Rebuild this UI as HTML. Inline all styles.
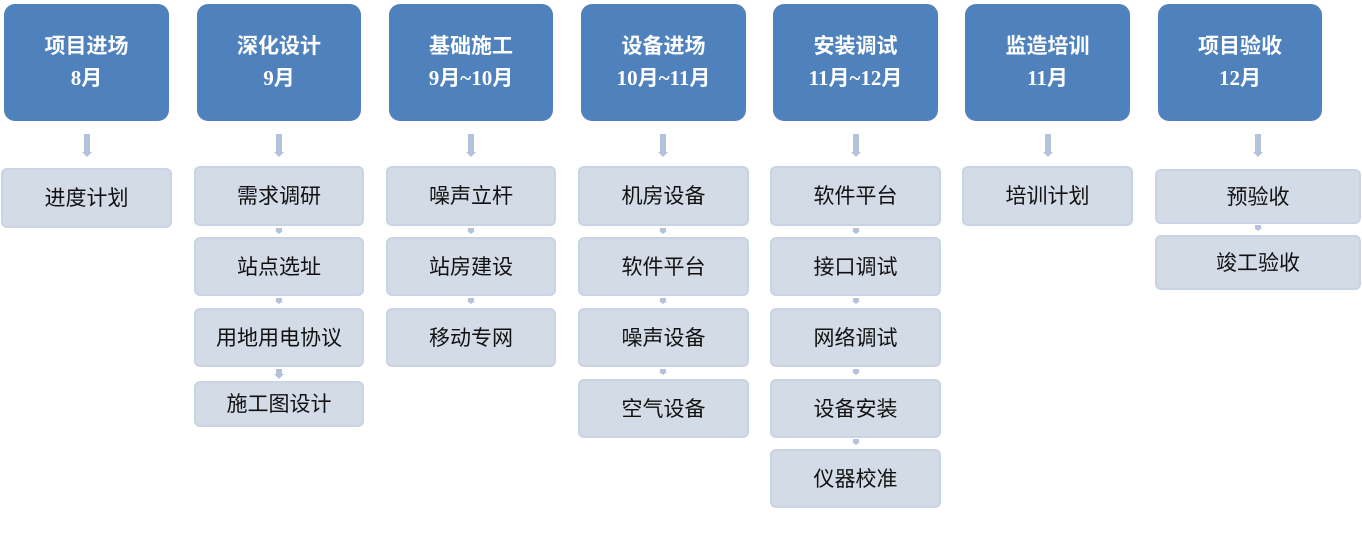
<!DOCTYPE html>
<html><head><meta charset="utf-8"><style>
body{margin:0;width:1362px;height:544px;background:#fff;position:relative;overflow:hidden}
.h{position:absolute;top:4px;height:117px;background:#4f81bd;border-radius:11px;color:#fff;font-family:"Liberation Serif","Noto Sans CJK SC",serif;font-weight:bold;font-size:21px;text-align:center;box-sizing:border-box;padding-top:26px;line-height:32px}
.b{position:absolute;background:#d3dbe7;border:2px solid #c9d3e4;border-radius:6px;box-sizing:border-box;font-family:"Liberation Sans","Noto Sans CJK SC",sans-serif;font-size:21px;color:#111;text-align:center;display:flex;align-items:center;justify-content:center;padding-bottom:2px}
.a{position:absolute;width:6px;background:#b4c3db}
.a:after{content:"";position:absolute;left:-2px;bottom:-5px;border-left:5px solid transparent;border-right:5px solid transparent;border-top:5px solid #b4c3db}
.s{position:absolute;width:6px;height:3px;background:#b4c3db}
.s:after{content:"";position:absolute;left:-1px;bottom:-3px;border-left:4px solid transparent;border-right:4px solid transparent;border-top:3px solid #b4c3db}
</style></head><body>
<div class="h" style="left:4px;width:165px">项目进场<br>8月</div>
<div class="h" style="left:197px;width:164px">深化设计<br>9月</div>
<div class="h" style="left:389px;width:164px">基础施工<br>9月~10月</div>
<div class="h" style="left:581px;width:165px">设备进场<br>10月~11月</div>
<div class="h" style="left:773px;width:165px">安装调试<br>11月~12月</div>
<div class="h" style="left:965px;width:165px">监造培训<br>11月</div>
<div class="h" style="left:1158px;width:164px">项目验收<br>12月</div>

<div class="a" style="left:84px;top:134px;height:18px"></div>
<div class="a" style="left:276px;top:134px;height:18px"></div>
<div class="a" style="left:468px;top:134px;height:18px"></div>
<div class="a" style="left:660px;top:134px;height:18px"></div>
<div class="a" style="left:853px;top:134px;height:18px"></div>
<div class="a" style="left:1045px;top:134px;height:18px"></div>
<div class="a" style="left:1255px;top:134px;height:18px"></div>

<div class="b" style="left:1px;top:168px;width:171px;height:60px">进度计划</div>

<div class="b" style="left:194px;top:166px;width:170px;height:60px">需求调研</div>
<div class="b" style="left:194px;top:237px;width:170px;height:59px">站点选址</div>
<div class="b" style="left:194px;top:308px;width:170px;height:59px">用地用电协议</div>
<div class="b" style="left:194px;top:381px;width:170px;height:46px">施工图设计</div>
<div class="s" style="left:276px;top:228px"></div>
<div class="s" style="left:276px;top:298px"></div>
<div class="a" style="left:276px;top:369px;height:5px"></div>

<div class="b" style="left:386px;top:166px;width:170px;height:60px">噪声立杆</div>
<div class="b" style="left:386px;top:237px;width:170px;height:59px">站房建设</div>
<div class="b" style="left:386px;top:308px;width:170px;height:59px">移动专网</div>
<div class="s" style="left:468px;top:228px"></div>
<div class="s" style="left:468px;top:298px"></div>

<div class="b" style="left:578px;top:166px;width:171px;height:60px">机房设备</div>
<div class="b" style="left:578px;top:237px;width:171px;height:59px">软件平台</div>
<div class="b" style="left:578px;top:308px;width:171px;height:59px">噪声设备</div>
<div class="b" style="left:578px;top:379px;width:171px;height:59px">空气设备</div>
<div class="s" style="left:660px;top:228px"></div>
<div class="s" style="left:660px;top:298px"></div>
<div class="s" style="left:660px;top:369px"></div>

<div class="b" style="left:770px;top:166px;width:171px;height:60px">软件平台</div>
<div class="b" style="left:770px;top:237px;width:171px;height:59px">接口调试</div>
<div class="b" style="left:770px;top:308px;width:171px;height:59px">网络调试</div>
<div class="b" style="left:770px;top:379px;width:171px;height:59px">设备安装</div>
<div class="b" style="left:770px;top:449px;width:171px;height:59px">仪器校准</div>
<div class="s" style="left:853px;top:228px"></div>
<div class="s" style="left:853px;top:298px"></div>
<div class="s" style="left:853px;top:369px"></div>
<div class="s" style="left:853px;top:439px"></div>

<div class="b" style="left:962px;top:166px;width:171px;height:60px">培训计划</div>

<div class="b" style="left:1155px;top:169px;width:206px;height:55px">预验收</div>
<div class="b" style="left:1155px;top:235px;width:206px;height:55px">竣工验收</div>
<div class="s" style="left:1255px;top:225px"></div>
</body></html>
